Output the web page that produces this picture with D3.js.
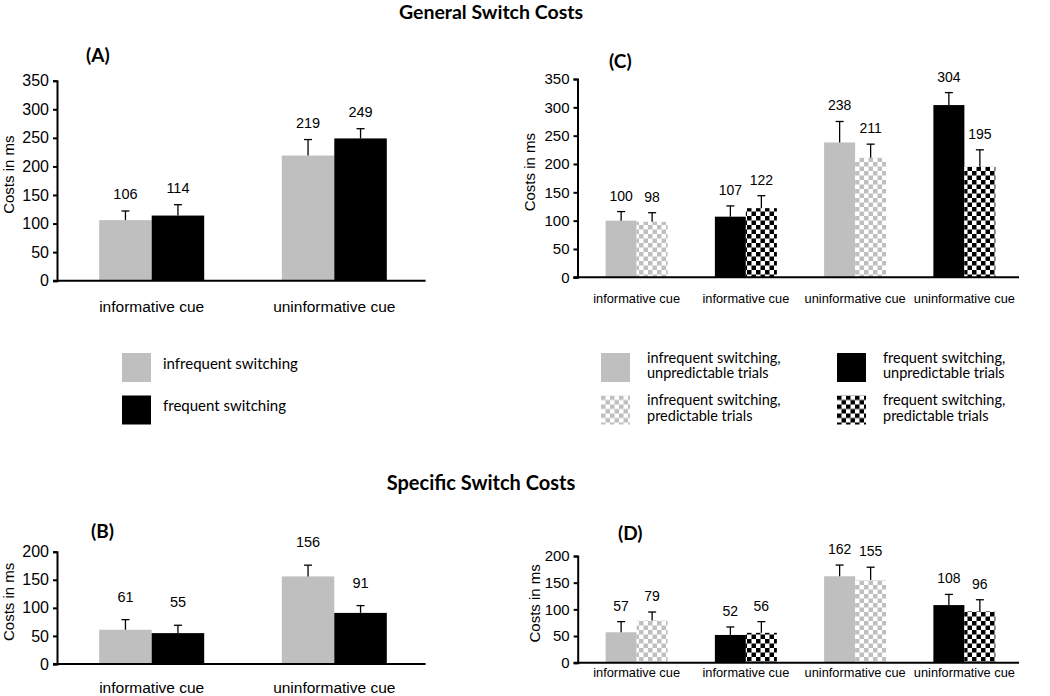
<!DOCTYPE html>
<html>
<head>
<meta charset="utf-8">
<script src="https://cdn.jsdelivr.net/npm/d3@7"></script>
<style>
  body { margin: 0; background: #fff; }
  svg text { fill: #000; }
</style>
</head>
<body>
<svg id="chart" width="1050" height="696"></svg>
<script>
// values (ms)
var abCats = ["informative cue", "uninformative cue"];
var aInfrequent = [106, 219], aInfrequentErr = [16, 28];
var aFrequent = [114, 249], aFrequentErr = [19, 17];
var bInfrequent = [61, 156], bInfrequentErr = [18, 20];
var bFrequent = [55, 91], bFrequentErr = [14, 13];

var cdCats = ["informative cue", "informative cue", "uninformative cue", "uninformative cue"];
var cdSwitching = ["infrequent", "frequent", "infrequent", "frequent"];
var cUnpredictable = [100, 107, 238, 304], cUnpredictableErr = [16, 19, 37, 22];
var cPredictable = [98, 122, 211, 195], cPredictableErr = [16, 22, 24, 30];
var dUnpredictable = [57, 52, 162, 108], dUnpredictableErr = [20, 15, 21, 20];
var dPredictable = [79, 56, 155, 96], dPredictableErr = [16, 21, 24, 22];

var ticksGeneral = [0, 50, 100, 150, 200, 250, 300, 350];
var ticksSpecific = [0, 50, 100, 150, 200];

var legendAB = ["infrequent switching", "frequent switching"];
var legendCD = [["infrequent switching,", "unpredictable trials"], ["infrequent switching,", "predictable trials"],
                ["frequent switching,", "unpredictable trials"], ["frequent switching,", "predictable trials"]];

var GREY = "#bfbfbf";
var svg = d3.select("#chart");
var numFont = "'Liberation Sans', Arial, sans-serif";
var txtFont = "Lato, 'Open Sans', sans-serif";

// checker patterns
var defs = svg.append("defs");
[["chkGrey", GREY], ["chkBlack", "#000"]].forEach(function(p){
	var c = 4.5;
	var pat = defs.append("pattern").attr("id", p[0]).attr("patternUnits", "userSpaceOnUse")
		.attr("width", c*2).attr("height", c*2);
	pat.append("rect").attr("width", c*2).attr("height", c*2).attr("fill", "#fff");
	pat.append("rect").attr("width", c).attr("height", c).attr("fill", p[1]);
	pat.append("rect").attr("x", c).attr("y", c).attr("width", c).attr("height", c).attr("fill", p[1]);
});

function fillFor(sw, predictable){
	if(sw == "infrequent") return predictable ? "url(#chkGrey)" : GREY;
	return predictable ? "url(#chkBlack)" : "#000";
}

// titles
svg.append("text").attr("x", 491).attr("y", 19).attr("text-anchor", "middle")
	.style("font", "bold 19.5px " + txtFont).text("General Switch Costs");
svg.append("text").attr("x", 481).attr("y", 490).attr("text-anchor", "middle")
	.style("font", "bold 20px " + txtFont).text("Specific Switch Costs");

function drawPanel(cfg){
	var g = svg.append("g");
	var y = d3.scaleLinear().domain([0, d3.max(cfg.ticks)]).range([cfg.y0, cfg.y1]);
	var step = (cfg.xr[1] - cfg.xr[0]) / cfg.cats.length;
	var pad = 1 - cfg.barW*2/step;
	var x = d3.scaleBand().domain(d3.range(cfg.cats.length)).range(cfg.xr)
		.paddingInner(pad).paddingOuter(pad/2);
	var xs = d3.scaleBand().domain([0, 1]).range([0, x.bandwidth()]);

	var bars = [];
	cfg.cats.forEach(function(c, i){
		cfg.series.forEach(function(s, j){
			bars.push({i:i, j:j, v:s.values[i], e:s.err[i], fill:s.fill(i)});
		});
	});

	g.selectAll("rect.bar").data(bars).enter().append("rect").attr("class", "bar")
		.attr("x", function(d){return x(d.i) + xs(d.j)})
		.attr("width", xs.bandwidth())
		.attr("y", function(d){return y(d.v)})
		.attr("height", function(d){return y(0) - y(d.v)})
		.attr("fill", function(d){return d.fill});

	// error bars (upper only)
	var eb = g.selectAll("g.err").data(bars).enter().append("g").attr("class", "err")
		.attr("transform", function(d){return "translate(" + (x(d.i) + xs(d.j) + xs.bandwidth()/2) + ",0)"});
	eb.append("line").attr("y1", function(d){return y(d.v)}).attr("y2", function(d){return y(d.v + d.e)})
		.attr("stroke", "#000").attr("stroke-width", 1.3);
	eb.append("line").attr("x1", -4).attr("x2", 4)
		.attr("y1", function(d){return y(d.v + d.e)}).attr("y2", function(d){return y(d.v + d.e)})
		.attr("stroke", "#000").attr("stroke-width", 1.3);

	g.selectAll("text.val").data(bars).enter().append("text").attr("class", "val")
		.attr("x", function(d){return x(d.i) + xs(d.j) + xs.bandwidth()/2})
		.attr("y", function(d){return y(d.v + d.e) - cfg.labelGap + 5})
		.attr("text-anchor", "middle").style("font", cfg.valSize + "px " + numFont)
		.text(function(d){return d.v});

	// y axis
	var ay = g.append("g").attr("transform", "translate(" + cfg.axisX + ",0)")
		.call(d3.axisLeft(y).tickValues(cfg.ticks).tickSize(4).tickPadding(4).tickSizeOuter(4));
	ay.select(".domain").attr("stroke-width", 2);
	ay.selectAll(".tick line").attr("stroke-width", 2);
	ay.selectAll("text").style("font", cfg.tickSize + "px " + numFont).attr("fill", "#000");

	// x axis line
	g.append("line").attr("x1", cfg.axisX - 4).attr("x2", cfg.xr[1])
		.attr("y1", y(0)).attr("y2", y(0)).attr("stroke", "#000").attr("stroke-width", 2);
	g.selectAll("text.cat").data(cfg.cats).enter().append("text").attr("class", "cat")
		.attr("x", function(d, i){return x(i) + x.bandwidth()/2})
		.attr("y", y(0) + cfg.catDy)
		.attr("text-anchor", "middle").style("font", cfg.catSize + "px " + numFont)
		.text(function(d){return d});

	g.append("text").attr("transform", "translate(" + cfg.ylabX + "," + ((cfg.y0 + cfg.y1)/2 - 6) + ") rotate(-90)")
		.attr("text-anchor", "middle").style("font", "15px " + numFont).text("Costs in ms");

	g.append("text").attr("x", cfg.tagX).attr("y", cfg.tagY)
		.style("font", "bold 19px " + txtFont).text(cfg.tag);
}

drawPanel({tag:"(A)", tagX:86, tagY:62, cats:abCats, ticks:ticksGeneral,
	y0:280.7, y1:80.7, axisX:57, xr:[60.4, 425.6], barW:52.5, labelGap:17, catDy:31, catSize:15.5,
	tickSize:16, valSize:14.5, ylabX:14,
	series:[{values:aInfrequent, err:aInfrequentErr, fill:function(){return GREY}},
	        {values:aFrequent, err:aFrequentErr, fill:function(){return "#000"}}]});

drawPanel({tag:"(B)", tagX:91, tagY:538, cats:abCats, ticks:ticksSpecific,
	y0:664, y1:551.7, axisX:57, xr:[60.4, 425.6], barW:52.5, labelGap:23, catDy:29, catSize:15.5,
	tickSize:16, valSize:14.5, ylabX:14,
	series:[{values:bInfrequent, err:bInfrequentErr, fill:function(){return GREY}},
	        {values:bFrequent, err:bFrequentErr, fill:function(){return "#000"}}]});

drawPanel({tag:"(C)", tagX:609, tagY:68, cats:cdCats, ticks:ticksGeneral,
	y0:277.3, y1:79, axisX:577.5, xr:[582, 1019], barW:31, labelGap:16, catDy:25.5, catSize:12.8,
	tickSize:15, valSize:14, ylabX:535,
	series:[{values:cUnpredictable, err:cUnpredictableErr, fill:function(i){return fillFor(cdSwitching[i], false)}},
	        {values:cPredictable, err:cPredictableErr, fill:function(i){return fillFor(cdSwitching[i], true)}}]});

drawPanel({tag:"(D)", tagX:618, tagY:540, cats:cdCats, ticks:ticksSpecific,
	y0:662.7, y1:556, axisX:577.7, xr:[582, 1019], barW:31, labelGap:16, catDy:14.5, catSize:12.8,
	tickSize:15, valSize:14, ylabX:540,
	series:[{values:dUnpredictable, err:dUnpredictableErr, fill:function(i){return fillFor(cdSwitching[i], false)}},
	        {values:dPredictable, err:dPredictableErr, fill:function(i){return fillFor(cdSwitching[i], true)}}]});

// legends
var lgA = svg.append("g").selectAll("g").data(legendAB).enter().append("g")
	.attr("transform", function(d, i){return "translate(122," + (353 + i*42.5) + ")"});
lgA.append("rect").attr("width", 29).attr("height", 29).attr("fill", function(d, i){return i ? "#000" : GREY});
lgA.append("text").attr("x", 41).attr("y", 10.5).attr("dy", "0.35em").style("font", "15px " + txtFont)
	.text(function(d){return d});

var lgC = svg.append("g").selectAll("g").data(legendCD).enter().append("g")
	.attr("transform", function(d, i){return "translate(" + (i < 2 ? 601 : 837) + "," + (353 + (i % 2)*42.5) + ")"});
lgC.append("rect").attr("width", 29).attr("height", 29)
	.attr("fill", function(d, i){return fillFor(i < 2 ? "infrequent" : "frequent", i % 2 == 1)});
lgC.append("text").attr("x", 46).attr("y", 4.5).attr("dy", "0.35em").style("font", "14.5px " + txtFont)
	.text(function(d){return d[0]});
lgC.append("text").attr("x", 46).attr("y", 20).attr("dy", "0.35em").style("font", "14.5px " + txtFont)
	.text(function(d){return d[1]});
</script>
</body>
</html>
